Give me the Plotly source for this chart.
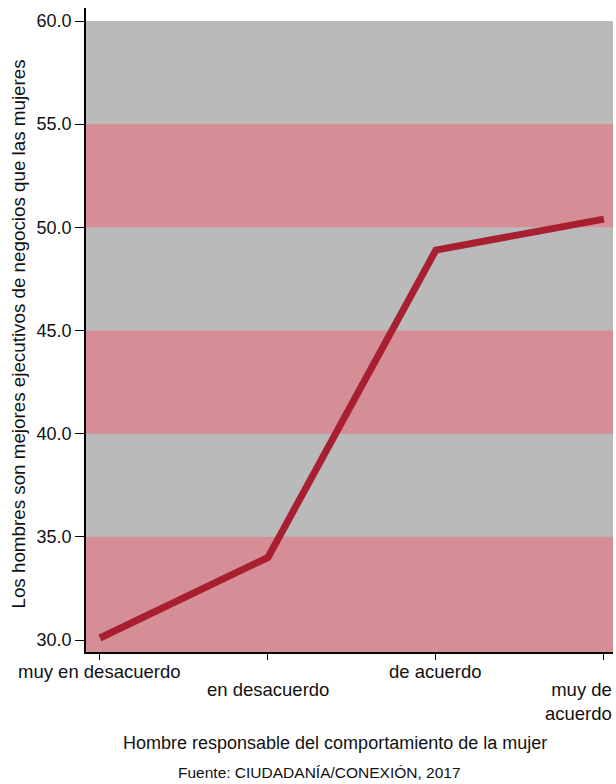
import plotly.graph_objects as go

categories = ["muy en desacuerdo", "en desacuerdo", "de acuerdo", "muy de acuerdo"]
category_labels = ["muy en desacuerdo", "en desacuerdo", "de acuerdo", "muy de<br>acuerdo"]
values = [30.1, 34.0, 48.9, 50.4]
y_ticks = [30, 35, 40, 45, 50, 55, 60]
gray_band = [29.42, 60]
pink_bands = [[29.42, 35], [40, 45], [50, 55]]

FONT = "Liberation Sans, Arial, Helvetica, sans-serif"
xs = list(range(len(categories)))

fig = go.Figure()
fig.add_trace(go.Scatter(x=xs, y=values, mode="lines",
                         line=dict(color="#a91f32", width=7),
                         hoverinfo="skip", showlegend=False))

fig.add_shape(type="rect", xref="paper", yref="y", x0=0, x1=1,
              y0=gray_band[0], y1=gray_band[1],
              fillcolor="#bababa", line=dict(width=0), layer="below")
for b0, b1 in pink_bands:
    fig.add_shape(type="rect", xref="paper", yref="y", x0=0, x1=1,
                  y0=b0, y1=b1,
                  fillcolor="#d58e95", line=dict(width=0), layer="below")

ann = []
offsets = [-7, -25, -7, -25]
for i, lab in enumerate(category_labels):
    if i == len(category_labels) - 1:
        ann.append(dict(x=xs[i], y=0, xref="x", yref="paper", text=lab, showarrow=False,
                        xanchor="right", yanchor="top", align="right", xshift=10, yshift=offsets[i],
                        font=dict(size=18.5, color="#111")))
    else:
        ann.append(dict(x=xs[i], y=0, xref="x", yref="paper", text=lab, showarrow=False,
                        xanchor="center", yanchor="top", yshift=offsets[i],
                        font=dict(size=18.5, color="#111")))
ann.append(dict(x=0.4725, y=0, xref="paper", yref="paper",
                text="Hombre responsable del comportamiento de la mujer",
                showarrow=False, xanchor="center", yanchor="top", yshift=-79,
                font=dict(size=18, color="#111")))
ann.append(dict(x=0.444, y=0, xref="paper", yref="paper",
                text="Fuente: CIUDADANÍA/CONEXIÓN, 2017",
                showarrow=False, xanchor="center", yanchor="top", yshift=-110,
                font=dict(size=15.5, color="#111")))
ann.append(dict(x=-0.128, y=0.4938, xref="paper", yref="paper",
                text="Los hombres son mejores ejecutivos de negocios que las mujeres",
                showarrow=False, textangle=-90, xanchor="center", yanchor="middle",
                font=dict(size=18.8, color="#111")))

fig.update_layout(
    width=616, height=784,
    margin=dict(l=86, r=3, t=8, b=132),
    paper_bgcolor="white", plot_bgcolor="white",
    font=dict(family=FONT, size=18, color="#111"),
    annotations=ann,
    xaxis=dict(range=[-0.083, 3.054], tickvals=xs, ticktext=["", "", "", ""],
               showgrid=False, zeroline=False, showline=True, linecolor="black", linewidth=1.5,
               ticks="outside", ticklen=6, tickcolor="black"),
    yaxis=dict(range=[29.42, 60.63], tickvals=y_ticks, tickformat=".1f",
               showgrid=False, zeroline=False, showline=True, linecolor="black", linewidth=1.5,
               ticks="outside", ticklen=9, tickcolor="black", tickfont=dict(size=18)),
)

fig.write_html("out.html", config={"displayModeBar": False},
               post_script="document.body.style.margin='0';document.body.style.overflow='hidden';")
